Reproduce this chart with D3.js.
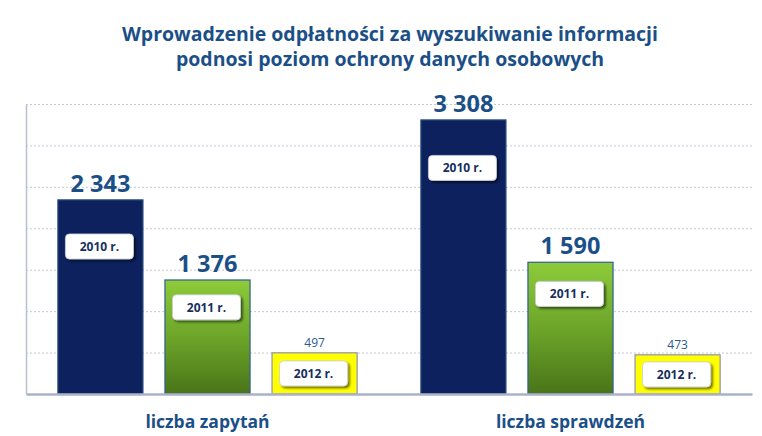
<!DOCTYPE html>
<html>
<head>
<meta charset="utf-8">
<script src="https://cdn.jsdelivr.net/npm/d3@7"></script>
<style>
  html, body { margin: 0; padding: 0; background: #ffffff; }
  svg { display: block; }
</style>
</head>
<body>
<svg id="chart" width="762" height="436"></svg>
<script>
// ---- data ----
const titleLines = [
  "Wprowadzenie odpłatności za wyszukiwanie informacji",
  "podnosi poziom ochrony danych osobowych"
];
const categories = ["liczba zapytań", "liczba sprawdzeń"];
const years = ["2010 r.", "2011 r.", "2012 r."];
const values2010 = [2343, 3308];
const values2011 = [1376, 1590];
const values2012 = [497, 473];
const yMax = 3500;
const yTickStep = 500;

// ---- layout ----
const W = 762, H = 436;
const margin = { top: 104, right: 10, bottom: 42, left: 26 };
const innerW = W - margin.left - margin.right;
const innerH = H - margin.top - margin.bottom;

const svg = d3.select("#chart");
const defs = svg.append("defs");

const greenGrad = defs.append("linearGradient")
  .attr("id", "greenGrad").attr("x1", 0).attr("y1", 0).attr("x2", 0).attr("y2", 1);
greenGrad.append("stop").attr("offset", "0%").attr("stop-color", "#8ecb3a");
greenGrad.append("stop").attr("offset", "55%").attr("stop-color", "#69a128");
greenGrad.append("stop").attr("offset", "100%").attr("stop-color", "#4a7419");

const shadow = defs.append("filter").attr("id", "boxShadow")
  .attr("x", "-20%").attr("y", "-30%").attr("width", "150%").attr("height", "180%");
shadow.append("feDropShadow").attr("dx", 2).attr("dy", 2).attr("stdDeviation", 1.3)
  .attr("flood-color", "#000000").attr("flood-opacity", 0.55);

const g = svg.append("g").attr("transform", `translate(${margin.left},${margin.top})`);

const y = d3.scaleLinear().domain([0, yMax]).range([innerH, 0]);
const x0 = d3.scaleBand().domain(categories).range([0, innerW]).padding(0);
const x1 = d3.scaleBand().domain(years).range([0, x0.bandwidth()])
  .paddingInner(0.196).paddingOuter(0.293);

// gridlines via axis
const grid = g.append("g")
  .call(d3.axisLeft(y).tickValues(d3.range(yTickStep, yMax + 1, yTickStep))
    .tickSize(-innerW).tickFormat(""));
grid.select(".domain").remove();
grid.selectAll(".tick line")
  .attr("stroke", "#c3c8d6").attr("stroke-width", 1).attr("stroke-dasharray", "2,2");

// data rows
const seriesByYear = [values2010, values2011, values2012];
const rows = [];
categories.forEach((c, ci) => {
  years.forEach((yr, yi) => {
    rows.push({ cat: c, year: yr, yi: yi, value: seriesByYear[yi][ci] });
  });
});

const fills = ["#0c215e", "url(#greenGrad)", "#ffff00"];
const strokes = ["#2b4f7e", "#2d5f93", "#8f93ad"];

const locale = d3.formatLocale({ decimal: ",", thousands: "\u00a0", grouping: [3], currency: ["", " zł"] });
const fmt = locale.format(",d");

const groups = g.selectAll(".grp").data(rows).enter().append("g")
  .attr("transform", d => `translate(${x0(d.cat) + x1(d.year)},0)`);

groups.append("rect")
  .attr("x", 0.5)
  .attr("y", d => y(d.value))
  .attr("width", x1.bandwidth() - 1)
  .attr("height", d => innerH - y(d.value))
  .attr("fill", d => fills[d.yi])
  .attr("stroke", d => strokes[d.yi])
  .attr("stroke-width", 1.2);

// value labels
groups.append("text")
  .attr("x", x1.bandwidth() / 2)
  .attr("y", d => y(d.value) - (d.yi < 2 ? 8 : 6))
  .attr("text-anchor", "middle")
  .attr("fill", d => d.yi < 2 ? "#1b4f88" : "#2a5a92")
  .style("font-family", "'Open Sans', sans-serif")
  .style("font-weight", d => d.yi < 2 ? 700 : 400)
  .style("font-size", d => d.yi < 2 ? "23.5px" : "12px")
  .text(d => fmt(d.value));

// year boxes
const boxW = 68, boxH = 25;
function boxCenter(d) {
  const h = innerH - y(d.value);
  const top = y(d.value);
  if (h < 60) return top + h / 2;
  return top + Math.min(48, h * 0.24);
}
groups.append("rect")
  .attr("x", x1.bandwidth() / 2 - boxW / 2 - 1)
  .attr("y", d => boxCenter(d) - boxH / 2)
  .attr("width", boxW)
  .attr("height", boxH)
  .attr("rx", 4).attr("ry", 4)
  .attr("fill", "#ffffff")
  .attr("stroke", "#c9ced8")
  .attr("stroke-width", 0.8)
  .attr("filter", "url(#boxShadow)");
groups.append("text")
  .attr("x", x1.bandwidth() / 2 - 1)
  .attr("y", d => boxCenter(d) + 4.5)
  .attr("text-anchor", "middle")
  .attr("fill", "#14305e")
  .style("font-family", "'Open Sans', sans-serif")
  .style("font-weight", 700)
  .style("font-size", "12px")
  .text(d => d.year);

// axes lines
const xAxis = g.append("g").attr("transform", `translate(0,${innerH})`)
  .call(d3.axisBottom(x0).tickSize(0).tickFormat(""));
xAxis.select(".domain").attr("stroke", "#aab2c8").attr("stroke-width", 2.5);
const yAxis = g.append("g")
  .call(d3.axisLeft(y).tickValues([]).tickSizeOuter(0));
yAxis.select(".domain").attr("stroke", "#b8bfd0").attr("stroke-width", 1.5);

// category labels
g.selectAll(".cat").data(categories).enter().append("text")
  .attr("x", d => x0(d) + x0.bandwidth() / 2)
  .attr("y", innerH + 34)
  .attr("text-anchor", "middle")
  .attr("fill", "#1b4f88")
  .style("font-family", "'Open Sans', sans-serif")
  .style("font-weight", 700)
  .style("font-size", "17.5px")
  .text(d => d);

// title
svg.selectAll(".title").data(titleLines).enter().append("text")
  .attr("x", 390)
  .attr("y", (d, i) => 41 + i * 25)
  .attr("text-anchor", "middle")
  .attr("fill", "#1b4f88")
  .style("font-family", "'Open Sans', sans-serif")
  .style("font-weight", 700)
  .style("font-size", "19.5px")
  .text(d => d);
</script>
</body>
</html>
